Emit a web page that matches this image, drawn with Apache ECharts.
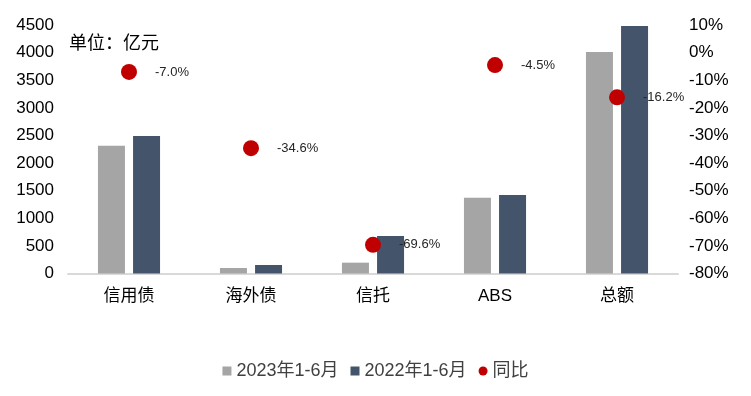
<!DOCTYPE html>
<html>
<head>
<meta charset="utf-8">
<script src="https://cdn.jsdelivr.net/npm/echarts@6/dist/echarts.min.js"></script>
<style>html,body{margin:0;padding:0;background:#fff;}#c{width:751px;height:396px;}</style>
</head>
<body>
<div id="c"></div>
<script>
const categories = ['信用债', '海外债', '信托', 'ABS', '总额'];
const values2023 = [2314, 100, 196, 1373, 4011];
const values2022 = [2490, 154, 679, 1421, 4482];
const yoy = [-7.0, -34.6, -69.6, -4.5, -16.2];
const leftTicks = {min: 0, max: 4500, interval: 500};
const rightTicks = {min: -80, max: 10, interval: 10};

const FONT = '"Liberation Sans", "Noto Sans CJK SC", sans-serif';
const chart = echarts.init(document.getElementById('c'));
chart.setOption({
  animation: false,
  textStyle: {fontFamily: FONT},
  grid: {left: 68, right: 73, top: 25, bottom: 122.5},
  legend: {
    bottom: 11, left: 'center',
    itemWidth: 9, itemHeight: 9, itemGap: 12,
    textStyle: {fontSize: 18, color: '#404040', fontFamily: FONT},
    data: [
      {name: '2023年1-6月', icon: 'rect'},
      {name: '2022年1-6月', icon: 'rect'},
      {name: '同比', icon: 'circle', itemStyle: {opacity: 1}}
    ]
  },
  graphic: [{
    type: 'text', left: 69, top: 35,
    style: {text: '单位：亿元', fontSize: 18, fill: '#000', fontFamily: FONT}
  }],
  xAxis: {
    type: 'category', data: categories,
    axisLine: {lineStyle: {color: '#d9d9d9', width: 2}},
    axisTick: {show: false},
    axisLabel: {fontSize: 17, color: '#000', margin: 14, fontFamily: FONT}
  },
  yAxis: [{
    type: 'value', min: leftTicks.min, max: leftTicks.max, interval: leftTicks.interval,
    splitLine: {show: false}, axisLine: {show: false}, axisTick: {show: false},
    axisLabel: {fontSize: 17, color: '#000', margin: 14, formatter: v => String(v), fontFamily: FONT}
  }, {
    type: 'value', min: rightTicks.min, max: rightTicks.max, interval: rightTicks.interval,
    position: 'right',
    splitLine: {show: false}, axisLine: {show: false}, axisTick: {show: false},
    axisLabel: {fontSize: 17, color: '#000', margin: 11, formatter: v => v + '%', fontFamily: FONT}
  }],
  series: [{
    name: '2023年1-6月', type: 'bar', data: values2023, barWidth: 27, barGap: '30%',
    itemStyle: {color: '#a5a5a5'}
  }, {
    name: '2022年1-6月', type: 'bar', data: values2022, barWidth: 27,
    itemStyle: {color: '#44546a'}
  }, {
    name: '同比', type: 'scatter', yAxisIndex: 1, data: yoy, symbolSize: 16, z: 10,
    itemStyle: {color: '#c00000', opacity: 1},
    label: {show: true, position: 'right', distance: 18, fontSize: 13, color: '#262626',
      formatter: p => p.value.toFixed(1) + '%', fontFamily: FONT}
  }]
});
</script>
</body>
</html>
